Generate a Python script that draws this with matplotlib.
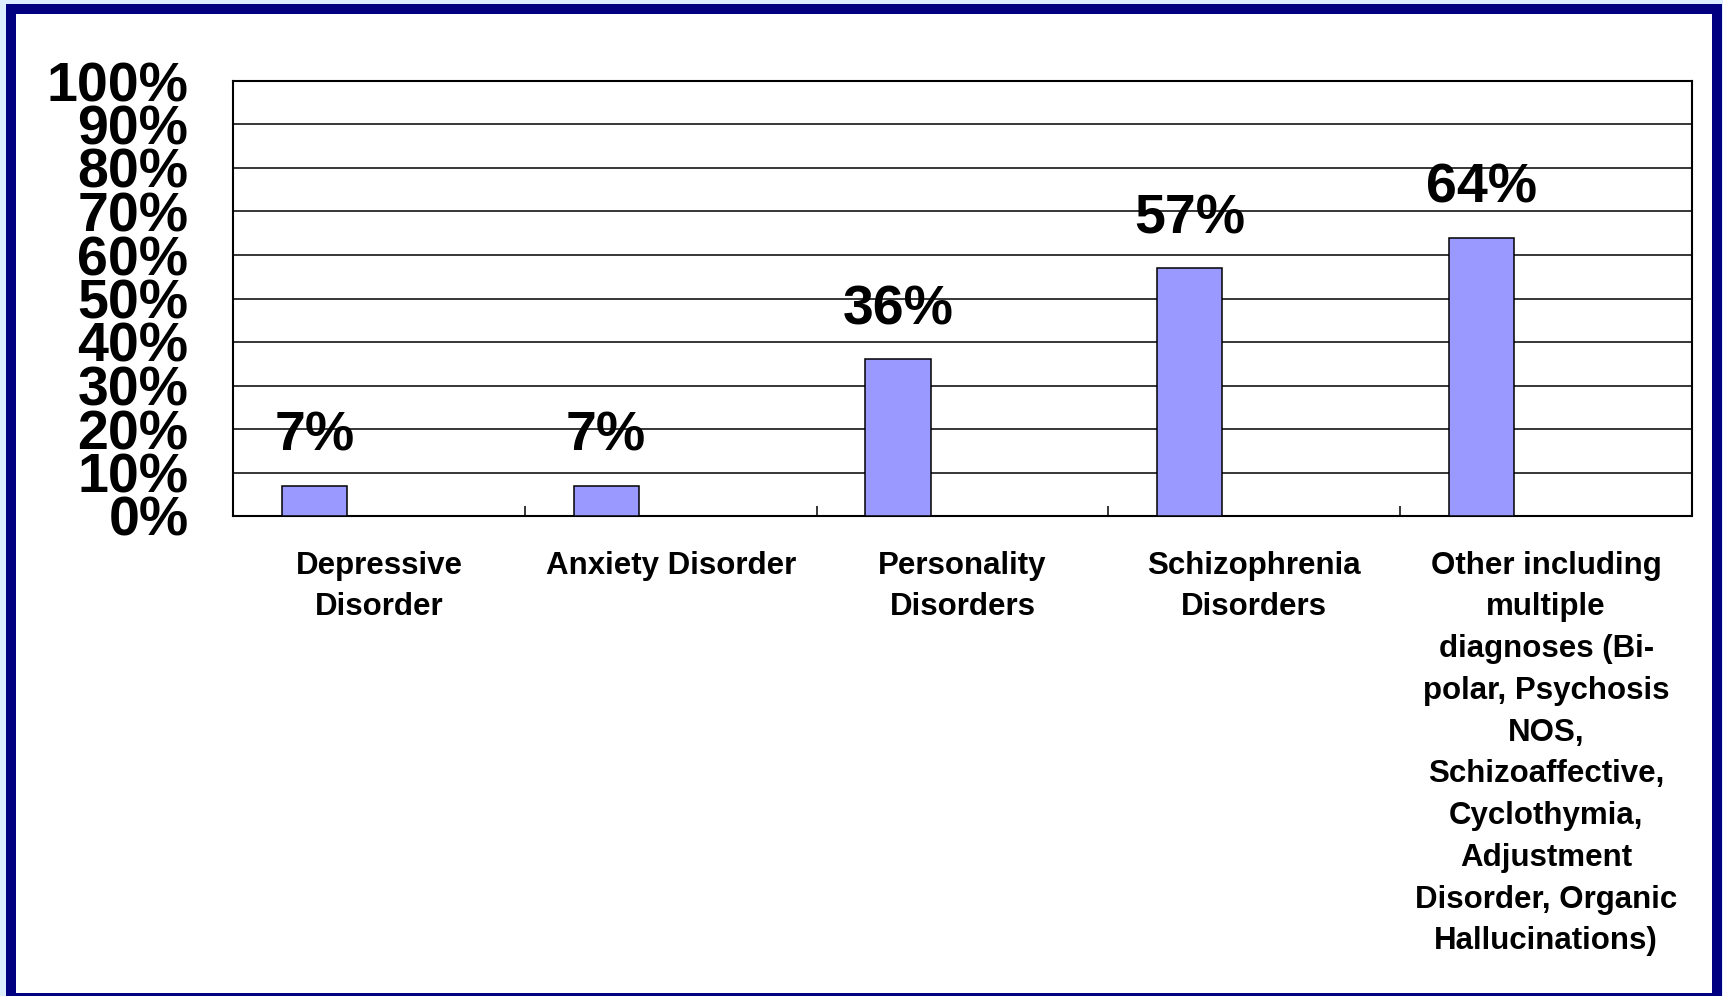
import matplotlib
matplotlib.use("Agg")
import numpy as np
import matplotlib.pyplot as plt
from matplotlib.patches import Rectangle

# ============================================================
# DATA
# ============================================================
CATEGORIES = [
    "Depressive\nDisorder",
    "Anxiety Disorder",
    "Personality\nDisorders",
    "Schizophrenia\nDisorders",
    "Other including\nmultiple\ndiagnoses (Bi-\npolar, Psychosis\nNOS,\nSchizoaffective,\nCyclothymia,\nAdjustment\nDisorder, Organic\nHallucinations)",
]
VALUES = [7, 7, 36, 57, 64]
Y_TICKS = [0, 10, 20, 30, 40, 50, 60, 70, 80, 90, 100]
Y_TICK_LABELS = [f"{v}%" for v in Y_TICKS]

BAR_COLOR = "#9999FF"
NAVY = "#000080"
BG_BLUE = "#DCEEFF"

plt.rcParams["font.family"] = ["Liberation Sans", "DejaVu Sans"]

W, H = 1724, 996
fig = plt.figure(figsize=(W / 100, H / 100), dpi=100, facecolor=BG_BLUE)

# navy frame around white slide area (drawn behind the axes)
frame = Rectangle((11 / W, 1 - 998 / H), (1717 - 11) / W, (998 - 9) / H,
                  transform=fig.transFigure, facecolor="white", edgecolor=NAVY,
                  linewidth=7.2, zorder=-10, clip_on=False)
fig.patches.append(frame)

ax = fig.add_axes([233 / W, 1 - 516 / H, (1692 - 233) / W, (516 - 81) / H])
ax.set_zorder(1)
ax.set_facecolor("white")

x = np.arange(len(CATEGORIES))
bars = ax.bar(x - 0.221, VALUES, width=0.223, color=BAR_COLOR,
              edgecolor="black", linewidth=1.1, zorder=3)

for xi, v in zip(x - 0.221, VALUES):
    ax.annotate(f"{v}%", (xi, v), xytext=(0, 25), textcoords="offset points",
                ha="center", va="baseline", fontsize=40, fontweight="bold",
                zorder=4)

ax.set_xlim(-0.5, len(CATEGORIES) - 0.5)
ax.set_ylim(0, 100)
ax.set_yticks(Y_TICKS)
ax.set_yticklabels(Y_TICK_LABELS, fontsize=40, fontweight="bold")
ax.tick_params(axis="y", direction="in", length=0, pad=32)

ax.set_xticks(x)
ax.set_xticklabels(CATEGORIES, fontsize=22.5, fontweight="bold")
for lbl in ax.get_xticklabels():
    lbl.set_linespacing(1.51)
ax.tick_params(axis="x", which="major", length=0, pad=25)
ax.set_xticks(np.arange(0.5, len(CATEGORIES) - 0.5), minor=True)
ax.tick_params(axis="x", which="minor", direction="in", length=7, width=1.1)

ax.grid(axis="y", color="black", linewidth=1.1, zorder=1)
ax.set_axisbelow(True)
for s in ax.spines.values():
    s.set_color("black")
    s.set_linewidth(1.5)

fig.savefig("out.png", dpi=100, facecolor=fig.get_facecolor())
